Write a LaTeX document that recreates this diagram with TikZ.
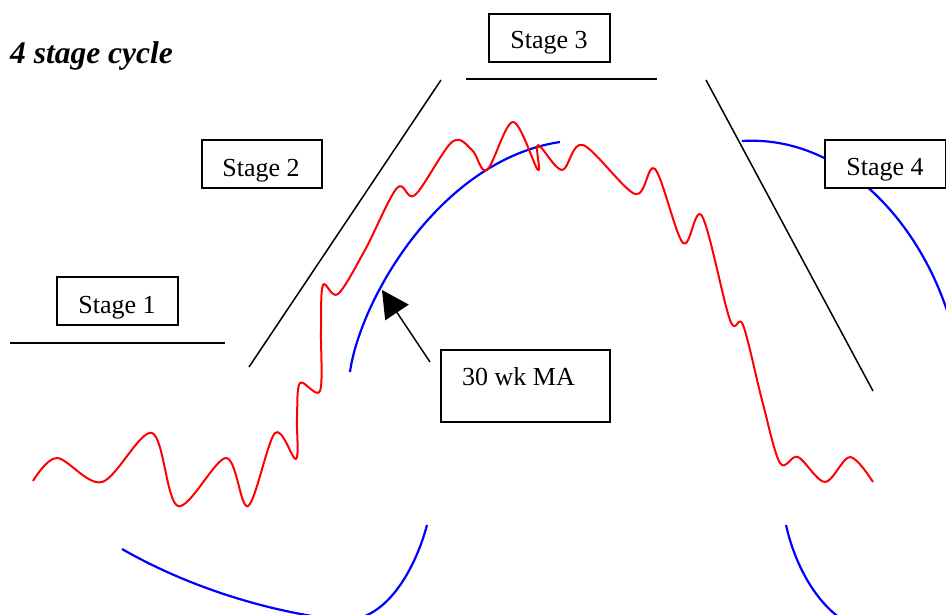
\documentclass[tikz,border=0pt]{standalone}
\usepackage{fontspec}
\setmainfont{Liberation Serif}
\usetikzlibrary{arrows.meta}
\begin{document}
\begin{tikzpicture}[x=1pt,y=-1pt,
  redline/.style={red, line width=2pt, line join=round},
  blueline/.style={blue, line width=2.2pt},
  blackline/.style={black, line width=1.5pt},
  stagebox/.style={draw=black, line width=2pt, fill=white, inner sep=0pt},
  lbl/.style={font=\fontsize{26}{30}\selectfont, inner sep=0pt, anchor=base}]
\useasboundingbox (0,0) rectangle (946,614);
% blue moving-average arcs
\begin{scope}
\clip (0,0) rectangle (946,614);
\draw[blueline] (122,549) .. controls (190,588) and (270,612) .. (340,620)
                .. controls (385,624) and (415,570) .. (427,525);
\draw[blueline] (350,372) .. controls (360,300) and (440,160) .. (560,142);
\draw[blueline] (742,141) .. controls (840,135) and (920,220) .. (950,320);
\draw[blueline] (786,525) .. controls (795,565) and (815,600) .. (840,618);
\end{scope}
% red price line
\draw[redline] plot[smooth, tension=0.55] coordinates {
(33,481) (57,458) (102,482) (152,433) (178,506) (226,458) (248,506) (275,433)
(296,459) (297,418) (300,383) (320,391) (321,330) (323,285) (338,294) (365,250)
(397,188) (415,195) (452,142) (472,150) (487,170) (513,122) (538,170) (538,145)
(562,170) (583,145) (635,194) (655,169) (683,243) (702,216) (730,320) (743,325)
(762,400) (780,463) (798,457) (825,482) (850,457) (873,482)};
% stage boundary lines
\coordinate (l1a) at (10,343);  \coordinate (l1b) at (225,343);
\coordinate (l2a) at (249,367); \coordinate (l2b) at (441,80);
\coordinate (l3a) at (466,79);  \coordinate (l3b) at (657,79);
\coordinate (l4a) at (706,80);  \coordinate (l4b) at (873,391);
\draw[blackline] (l1a) -- (l1b);
\draw[blackline] (l2a) -- (l2b);
\draw[blackline] (l3a) -- (l3b);
\draw[blackline] (l4a) -- (l4b);
% title
\node[anchor=base west, inner sep=0pt, font=\fontsize{31.5}{36}\selectfont\bfseries\itshape] (title) at (10,63) {4 stage cycle};
% stage boxes
\node[stagebox, minimum width=121pt, minimum height=48pt] (s1) at (117.5,301) {};
\node[lbl] (s1t) at (117,313) {Stage 1};
\node[stagebox, minimum width=120pt, minimum height=48pt] (s2) at (262,164) {};
\node[lbl] (s2t) at (261,176) {Stage 2};
\node[stagebox, minimum width=121pt, minimum height=48pt] (s3) at (549,38) {};
\node[lbl] (s3t) at (549,48) {Stage 3};
\node[stagebox, minimum width=121pt, minimum height=48pt] (s4) at (885.5,164) {};
\node[lbl] (s4t) at (885,175) {Stage 4};
\node[stagebox, minimum width=169pt, minimum height=72pt] (ma) at (525.5,386) {};
\node[lbl, anchor=base west] (mat) at (462,385) {30 wk MA};
% arrow to MA
\coordinate (arrS) at (430,362);
\coordinate (arrE) at (382,290);
\draw[blackline, -{Triangle[length=27pt,width=28pt]}] (arrS) -- (arrE);
\end{tikzpicture}
\end{document}
